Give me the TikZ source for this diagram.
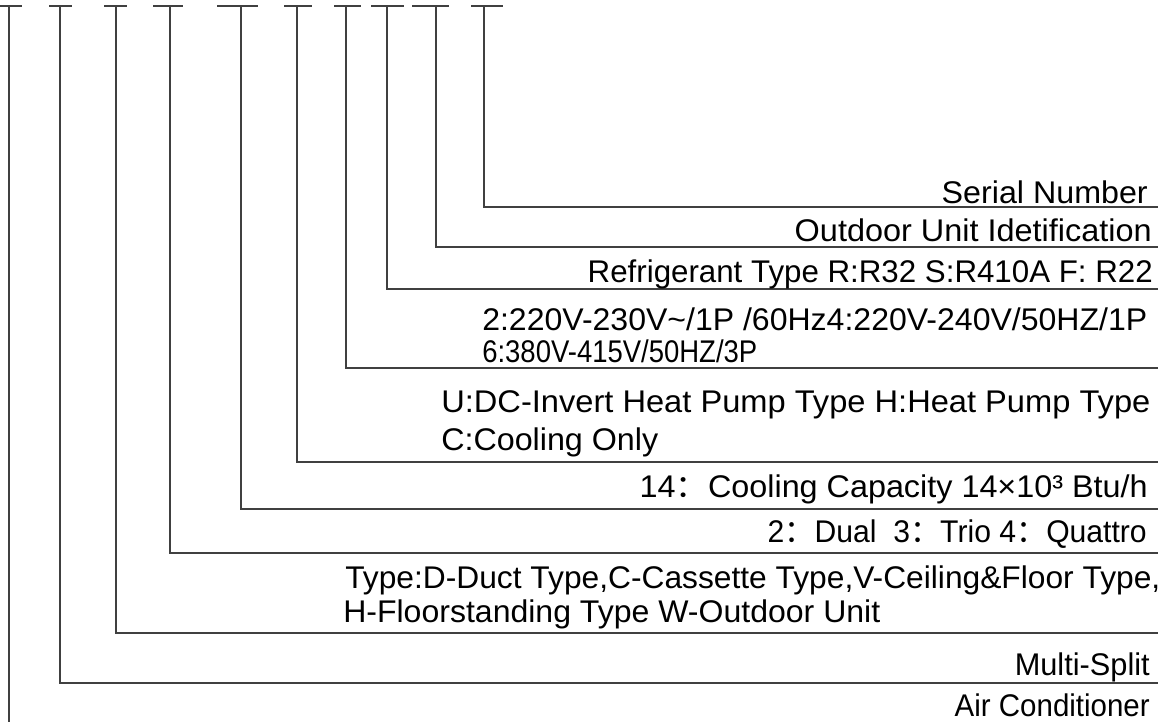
\documentclass[tikz,border=0pt]{standalone}
\usepackage{fontspec}
\usepackage{graphicx}
\setmainfont{Liberation Sans}
\newfontfamily\cjk{Noto Sans CJK SC}
\usepackage{tikz}
\usetikzlibrary{positioning, calc}

% one pixel of the drawing
\newlength\pxu
\setlength\pxu{0.75pt}
% set a line of text to a given width (in px), keeping its height
\newcommand{\fitw}[2]{\resizebox{#1\pxu}{\height}{#2}}

\tikzset{
  lead/.style={draw=black!75, line width=0.9pt},
  lbl/.style={inner sep=0pt, font=\fontsize{23.5pt}{28pt}\selectfont}
}

\begin{document}
\begin{tikzpicture}[x=0.75pt, y=-0.75pt]
  \useasboundingbox (0,0) rectangle (1173,722);

  % code positions: name / x / bar from / bar to / line height
  \foreach \n/\x/\a/\b/\y in {sn/484/471/503/207, oui/436/412/449/247,
      ref/387/371/404/289, volt/346/334/361/368, pump/297/284/312/462,
      cap/241/217/258/509, num/170/153/183/553, typ/116/104/127/633,
      ms/60/49/72/683}
  {
    \coordinate (top-\n) at (\x,6);
    \coordinate (end-\n) at (1158,\y);
    \draw[lead] (\a,6) -- (\b,6);
    \draw[lead] (top-\n) |- (end-\n);
  }

  % first position runs down to the bottom
  \coordinate (top-ac) at (9,6);
  \coordinate (end-ac) at (9,722);
  \draw[lead] (0,6) -- (22,6);
  \draw[lead] (top-ac) -- (end-ac);

  % Labels
  \node[lbl, anchor=base east] (sn) at (1148,203) {\fitw{206}{Serial Number}};
  \node[lbl, anchor=base east] (oui) at (1152,241) {\fitw{357}{Outdoor Unit Idetification}};
  \node[lbl, anchor=base east] (ref) at (1153,282) {\fitw{565}{Refrigerant Type R:R32 S:R410A F: R22}};
  \node[lbl, anchor=base west] (volt) at (482,330) {\fitw{665}{2:220V-230V\textasciitilde/1P /60Hz4:220V-240V/50HZ/1P}};
  \node[lbl, anchor=base west] (volt2) at (482,362) {\fitw{275}{6:380V-415V/50HZ/3P}};
  \node[lbl, anchor=base west] (pump) at (441,412) {\fitw{709}{U:DC-Invert Heat Pump Type H:Heat Pump Type}};
  \node[lbl, anchor=base west] (pump2) at (441,450) {\fitw{217}{C:Cooling Only}};
  \node[lbl, anchor=base east] (cap) at (1148,497) {\fitw{508}{14{\cjk ：}Cooling Capacity 14×10³ Btu/h}};
  \node[lbl, anchor=base east] (num) at (1147,542) {\fitw{379}{2{\cjk ：}Dual\ \ 3{\cjk ：}Trio 4{\cjk ：}Quattro}};
  \node[lbl, anchor=base west] (typ) at (345,588) {\fitw{815}{Type:D-Duct Type,C-Cassette Type,V-Ceiling\&Floor Type,}};
  \node[lbl, anchor=base west] (typ2) at (343,622) {\fitw{537}{H-Floorstanding Type W-Outdoor Unit}};
  \node[lbl, anchor=base east] (ms) at (1150,675) {\fitw{135}{Multi-Split}};
  \node[lbl, anchor=base east] (ac) at (1150,716) {\fitw{195}{Air Conditioner}};
\end{tikzpicture}
\end{document}
